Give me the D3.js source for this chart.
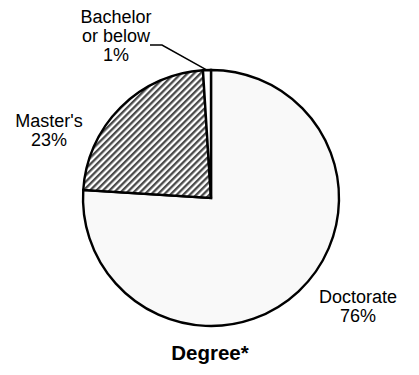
<!DOCTYPE html>
<html>
<head>
<meta charset="utf-8">
<script src="https://cdn.jsdelivr.net/npm/d3@7"></script>
<style>
  html, body { margin: 0; padding: 0; background: #fff; }
  svg { display: block; }
  text { font-family: Arial, "Liberation Sans", sans-serif; fill: #000; }
</style>
</head>
<body>
<div id="chart"></div>
<script>
// Share of respondents by highest degree
const categories = ["Doctorate", "Master's", "Bachelor or below"];
const shares = [76, 23, 1];
const labelLines = [["Doctorate", "76%"], ["Master's", "23%"], ["Bachelor", "or below", "1%"]];
const title = "Degree*";

const width = 419, height = 375;
const cx = 211, cy = 198, radius = 128;

const svg = d3.select("#chart").append("svg")
  .attr("width", width).attr("height", height);

// Diagonal hatch for the Master's slice
const defs = svg.append("defs");
const hatch = defs.append("pattern")
  .attr("id", "hatch")
  .attr("patternUnits", "userSpaceOnUse")
  .attr("width", 4.6).attr("height", 4.6)
  .attr("patternTransform", "rotate(45)");
hatch.append("rect").attr("width", 4.6).attr("height", 4.6).attr("fill", "#ffffff");
hatch.append("rect").attr("x", 0).attr("width", 2.3).attr("height", 4.6).attr("fill", "#4a4a4a");

const fills = ["#f9f9f9", "url(#hatch)", "#ffffff"];

const pie = d3.pie().sort(null).value(d => d)(shares);
const arc = d3.arc().innerRadius(0).outerRadius(radius);

const g = svg.append("g").attr("transform", `translate(${cx},${cy})`);

g.selectAll("path.slice")
  .data(pie)
  .join("path")
  .attr("class", "slice")
  .attr("d", arc)
  .attr("fill", (d, i) => fills[i])
  .attr("stroke", "#000")
  .attr("stroke-width", 2.4)
  .attr("stroke-linejoin", "miter");

// Slice labels
const labelPos = [[358, 303], [49, 127], [116, 23]];
const lineH = 19;
labelLines.forEach((lines, i) => {
  const t = svg.append("text")
    .attr("text-anchor", "middle")
    .attr("font-size", 18);
  lines.forEach((s, j) => {
    t.append("tspan")
      .attr("x", labelPos[i][0])
      .attr("y", labelPos[i][1] + j * lineH)
      .text(s);
  });
});

// Leader line for the smallest slice
const small = pie[2];
const mid = (small.startAngle + small.endAngle) / 2;
const edge = [cx + radius * Math.sin(mid), cy - radius * Math.cos(mid)];
svg.append("polyline")
  .attr("points", [[150, 45], [162, 45], edge].map(p => p.join(",")).join(" "))
  .attr("fill", "none")
  .attr("stroke", "#000")
  .attr("stroke-width", 1.5);

svg.append("text")
  .attr("x", 210).attr("y", 360)
  .attr("text-anchor", "middle")
  .attr("font-size", 20.5)
  .attr("font-weight", "bold")
  .text(title);
</script>
</body>
</html>
